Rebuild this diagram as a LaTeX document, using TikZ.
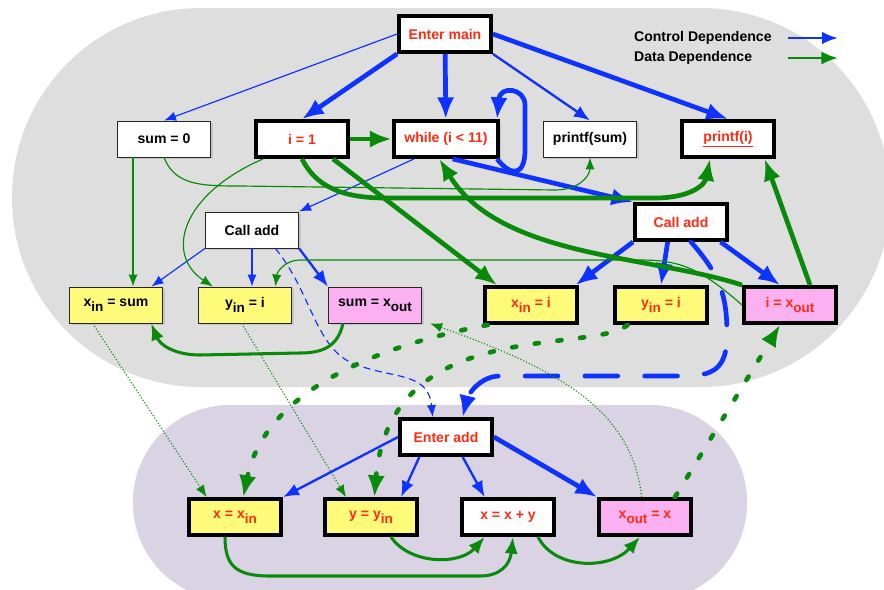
\documentclass[tikz,border=0pt]{standalone}
\usepackage{fontspec}
\setmainfont{Liberation Sans}
\usepackage{xcolor}
\usepackage{tikz}
\usetikzlibrary{arrows.meta, shadows}
\definecolor{sdgblue}{HTML}{0F33FF}
\definecolor{sdggreen}{HTML}{0A8A0A}
\definecolor{sdgred}{HTML}{FF2A12}
\definecolor{sdgyellow}{HTML}{FFFA7A}
\definecolor{sdgpink}{HTML}{FBB0F2}
\definecolor{sdggray}{HTML}{DEDEDE}
\definecolor{sdgpurple}{HTML}{D9D3E3}
\newcommand{\lsub}[1]{\raisebox{-0.35em}{\fontsize{11.5}{12}\selectfont #1}}
\tikzset{
  sbox/.style={draw=black!85, line width=0.8pt, fill=white, minimum width=28mm, minimum height=10.8mm, inner sep=0pt, font=\fontsize{12}{14}\selectfont\bfseries, drop shadow={shadow xshift=0.7mm, shadow yshift=-0.7mm, opacity=0.25}},
  sslice/.style={sbox, draw=black, line width=3.6pt, text=sdgred, minimum width=27.5mm, minimum height=10.7mm},
  syel/.style={fill=sdgyellow},
  spink/.style={fill=sdgpink},
  slbl/.style={font=\fontsize{12}{14}\selectfont\bfseries, anchor=west},
  cdep/.style={-{Latex[length=3.6mm, width=2.8mm]}, line width=1pt, sdgblue},
  cdepM/.style={-{Latex[length=4.8mm, width=3.8mm]}, line width=2pt, sdgblue},
  cdepK/.style={-{Latex[length=6.5mm, width=5.2mm]}, line width=4pt, sdgblue},
  cdash/.style={cdep, dash pattern=on 6pt off 4pt},
  cdashK/.style={cdepK, line cap=round, dash pattern=on 28pt off 23pt},
  ddep/.style={-{Latex[length=3.6mm, width=2.8mm]}, line width=1pt, sdggreen},
  ddepM/.style={-{Latex[length=5mm, width=4mm]}, line width=2.6pt, sdggreen},
  ddepK/.style={-{Latex[length=6.5mm, width=5.2mm]}, line width=4pt, sdggreen},
  dsum/.style={ddep, line width=0.9pt, dash pattern=on 1pt off 1.6pt},
  ddash/.style={ddepK, line cap=round, dash pattern=on 3.5pt off 16pt},
}

\begin{document}
\begin{tikzpicture}[x=0.3mm, y=-0.3mm]
  \useasboundingbox (0,0) rectangle (884,589);
  % procedure regions
  \fill[sdggray, rounded corners=56.7mm] (12,8) rectangle (890,387);
  \fill[sdgpurple, rounded corners=29mm] (133,405) rectangle (747,600);

  % main
  \node[sslice] (emain) at (445,34) {Enter main};
  \node[sbox] (sum0) at (164,139) {sum = 0};
  \node[sslice] (i1) at (302,139) {i = 1};
  \node[sslice, minimum width=31.4mm] (while) at (446,139) {while (i < 11)};
  \node[sbox] (psum) at (590,139) {printf(sum)};
  \node[sslice] (pi) at (728,139) {\underline{printf(i)}};
  \node[sbox] (calll) at (252,230) {Call add};
  \node[sslice] (callr) at (681,222) {Call add};
  \node[sbox, syel] (xinsum) at (116,305) {x\lsub{in} = sum};
  \node[sbox, syel] (yinl) at (245,305) {y\lsub{in} = i};
  \node[sbox, spink] (sumxout) at (375,305) {sum = x\lsub{out}};
  \node[sslice, syel] (xini) at (531,305) {x\lsub{in} = i};
  \node[sslice, syel] (yinr) at (661,305) {y\lsub{in} = i};
  \node[sslice, spink] (ixout) at (790,305) {i = x\lsub{out}};

  % add
  \node[sslice] (eadd) at (446,437) {Enter add};
  \node[sslice, syel] (xxin) at (235,517) {x = x\lsub{in}};
  \node[sslice, syel] (yyin) at (371,517) {y = y\lsub{in}};
  \node[sslice] (xxy) at (508,517) {x = x + y};
  \node[sslice, spink] (xoutx) at (645,517) {x\lsub{out} = x};

  % legend
  \node[slbl] (lctrl) at (630,38) {Control Dependence};
  \node[slbl] (ldata) at (630,58) {Data Dependence};
  \coordinate (lc1) at (788,38);
  \coordinate (lc2) at (838,38);
  \coordinate (ld1) at (788,58);
  \coordinate (ld2) at (838,58);
  \draw[cdepM, line width=2.2pt] (lc1) -- (lc2);
  \draw[ddepM, line width=2.2pt] (ld1) -- (ld2);

  % control dependences
  \draw[cdep] (emain.west) -- (sum0.north);
  \draw[cdepK] (emain.south west) -- (i1.north);
  \draw[cdepK] (emain) -- (while);
  \draw[cdepM] (emain.south east) -- (psum.north);
  \draw[cdepK] (emain.east) -- (pi.north);
  \draw[cdepK] ([xshift=-1mm]while.south east) .. controls (512,178) and (525,175) .. (525,150) -- (525,105) .. controls (525,88) and (500,85) .. ([xshift=-1mm]while.north east);
  \draw[cdepK] ([xshift=2mm]while.south) -- (callr.north west);
  \draw[cdep] ([xshift=-9.6mm]while.south) -- (calll.north east);
  \draw[cdep] (calll.south west) -- ([xshift=-3.5mm]xinsum.north east);
  \draw[cdep] (calll.south) -- (calll.south |- yinl.north);
  \draw[cdepM] (calll.south east) -- (sumxout.north west);
  \draw[cdash] ([xshift=7mm]calll.south) .. controls (310,290) and (315,345) .. (350,362) .. controls (390,380) and (428,370) .. ([xshift=-4mm]eadd.north);
  \draw[cdepK] (callr.south west) -- ([xshift=-1mm]xini.north east);
  \draw[cdepK] ([xshift=-4mm]callr.south) -- (yinr.north);
  \draw[cdepK] ([xshift=-2.5mm]callr.south east) -- ([xshift=-3mm]ixout.north);
  \draw[cdashK] ([xshift=3mm]callr.south) .. controls (720,275) and (727,295) .. (727,335) .. controls (727,370) and (712,376) .. (683,376) -- (500,376) .. controls (480,376) and (468,395) .. ([xshift=5mm]eadd.north);
  \draw[cdepM] (eadd.west) -- (xxin.north east);
  \draw[cdepM] ([xshift=-8mm]eadd.south) -- ([xshift=9mm]yyin.north);
  \draw[cdepM] ([xshift=5mm]eadd.south) -- ([xshift=-7mm]xxy.north);
  \draw[cdepK] (eadd.east) -- (xoutx.north west);

  % data dependences
  \coordinate (s0x) at ([xshift=-9.3mm]sum0.south);
  \draw[ddep] (s0x) -- (s0x |- xinsum.north);
  \draw[ddep] (sum0.south) .. controls (175,185) and (200,186) .. (240,186) -- (555,190) .. controls (580,190) and (590,175) .. (psum.south);
  \draw[ddepK] (i1) -- (while);
  \draw[ddep] ([xshift=-11.7mm]i1.south) .. controls (180,195) and (165,255) .. ([xshift=-9.6mm]yinl.north);
  \draw[ddepK] (i1.south) .. controls (315,185) and (340,198) .. (385,198) -- (655,198) .. controls (690,198) and (705,185) .. ([xshift=-5.4mm]pi.south);
  \draw[ddepK] ([xshift=9.3mm]i1.south) -- ([xshift=-10.2mm]xini.north);
  \draw[ddepK] (ixout.north west) .. controls (650,255) and (500,258) .. ([xshift=-2mm]while.south);
  \draw[ddepK] ([xshift=6mm]ixout.north) -- ([xshift=11mm]pi.south);
  \draw[ddep] (ixout.west) .. controls (700,268) and (680,260) .. (640,260) -- (300,260) .. controls (285,260) and (277,272) .. ([xshift=-5mm]yinl.north east);
  \draw[ddepM] ([xshift=-9.6mm]sumxout.south) .. controls (338,345) and (325,353) .. (300,353) -- (200,355) .. controls (175,355) and (160,345) .. ([xshift=-3.6mm]xinsum.south east);
  \draw[ddepM] ([xshift=-3mm]xxin.south) .. controls (225,565) and (235,576) .. (270,576) -- (480,576) .. controls (500,576) and (510,565) .. ([xshift=1.5mm]xxy.south);
  \draw[ddepM] ([xshift=6mm]yyin.south) .. controls (410,565) and (460,565) .. ([xshift=-7mm]xxy.south);
  \draw[ddepM] ([xshift=9mm]xxy.south) .. controls (555,570) and (610,570) .. ([xshift=-1.5mm]xoutx.south);

  % parameter bindings
  \draw[dsum] ([xshift=-7mm]xinsum.south) -- ([xshift=-8.5mm]xxin.north);
  \draw[dsum] ([xshift=-1mm]yinl.south) -- ([xshift=-7.5mm]yyin.north);
  \draw[dsum] ([xshift=-1mm]xoutx.north) .. controls (632,410) and (560,370) .. ([xshift=2.4mm]sumxout.south east);
  \draw[ddash] ([xshift=-13mm]xini.south) .. controls (380,345) and (265,390) .. ([xshift=2.5mm]xxin.north);
  \draw[ddash] ([xshift=-10mm]yinr.south) .. controls (590,355) and (390,315) .. ([xshift=1mm]yyin.north);
  \draw[ddash] ([xshift=9mm]xoutx.north) -- ([xshift=-3mm]ixout.south);
\end{tikzpicture}
\end{document}
